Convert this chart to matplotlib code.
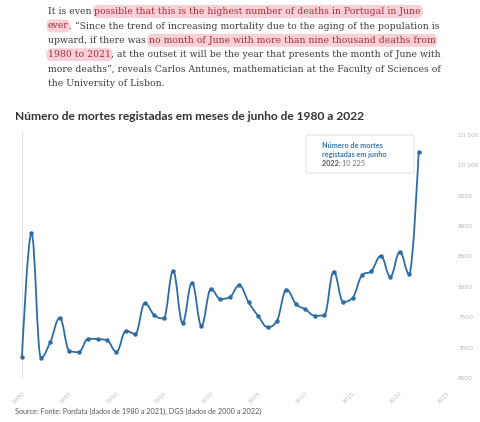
import matplotlib
matplotlib.use("Agg")
import matplotlib.pyplot as plt
from matplotlib.path import Path
from matplotlib.patches import PathPatch, FancyBboxPatch
import numpy as np

# ---------------- data ----------------
years = list(range(1980, 2023))
deaths = [6850, 8880, 6835, 7095, 7490, 6950, 6925, 7145, 7140, 7120,
          6930, 7275, 7225, 7730, 7535, 7480, 8260, 7410, 8070, 7360,
          7965, 7800, 7830, 8025, 7745, 7520, 7340, 7445, 7955, 7720,
          7630, 7525, 7530, 8250, 7755, 7820, 8190, 8260, 8510, 8165,
          8575, 8210, 10225]
y_ticks = [6500, 7000, 7500, 8000, 8500, 9000, 9500, 10000, 10500]
y_tick_labels = ["6500", "7000", "7500", "8000", "8500", "9000", "9500", "10 000", "10 500"]
x_ticks = [1980, 1985, 1990, 1995, 2000, 2005, 2010, 2015, 2020, 2025]

title = "Número de mortes registadas em meses de junho de 1980 a 2022"
source = "Source: Fonte: Pordata (dados de 1980 a 2021), DGS (dados de 2000 a 2022)"
body = [
    [("It is even ", False), ("possible that this is the highest number of deaths in Portugal in June", True)],
    [("ever", True), (". \u201cSince the trend of increasing mortality due to the aging of the population is", False)],
    [("upward, if there was ", False), ("no month of June with more than nine thousand deaths from", True)],
    [("1980 to 2021", True), (", at the outset it will be the year that presents the month of June with", False)],
    [("more deaths\u201d, reveals Carlos Antunes, mathematician at the Faculty of Sciences of", False)],
    [("the University of Lisbon.", False)],
]

W, H = 480, 422
fig = plt.figure(figsize=(W / 100, H / 100), dpi=100)
fig.patch.set_facecolor("white")


def fx(x):
    return x / W


def fy(y):
    return 1 - y / H


renderer = fig.canvas.get_renderer()

# ---------------- body text ----------------
body_font = dict(family="DejaVu Serif", size=6.7)
BASE_COL = "#3d3d3d"
HL_COL = "#a8303f"
HL_BG = "#f8d0d6"


def text_width(s, **kw):
    t1 = fig.text(0, 0, s + "x", **kw)
    t2 = fig.text(0, 0, "x", **kw)
    w = t1.get_window_extent(renderer).width - t2.get_window_extent(renderer).width
    t1.remove()
    t2.remove()
    return w


line_y0 = 11.5
line_dy = 14.4
for i, segs in enumerate(body):
    y = line_y0 + i * line_dy
    x = 48
    for s, hl in segs:
        w = text_width(s, **body_font)
        if hl:
            fig.patches.append(FancyBboxPatch((fx(x - 1.5), fy(y + 6.5)), fx(w + 3), 13 / H,
                                              boxstyle="round,pad=0,rounding_size=0.012",
                                              transform=fig.transFigure, facecolor=HL_BG,
                                              edgecolor="none", zorder=0))
        fig.text(fx(x), fy(y), s, color=HL_COL if hl else BASE_COL, va="center", ha="left",
                 zorder=2, **body_font)
        x += w

# ---------------- title ----------------
fig.text(fx(15), fy(117), title, fontsize=8.65, fontweight="bold", family="Lato",
         color="#333333", va="center", ha="left")

# ---------------- chart ----------------
ax = fig.add_axes([fx(22), fy(378), fx(447 - 22), (378 - 130) / H])
ax.set_xlim(1980, 2025)
ax.set_ylim(6500, 10580)
for sp in ["top", "right", "bottom"]:
    ax.spines[sp].set_visible(False)
ax.spines["left"].set_color("#e6e6e6")
ax.spines["left"].set_linewidth(0.8)

# Highcharts-like spline through data
xs = np.array(years, dtype=float)
ys = np.array(deaths, dtype=float)
n = len(xs)
sm, den = 1.5, 2.5
lc = [(xs[i], ys[i]) for i in range(n)]
rc = [(xs[i], ys[i]) for i in range(n)]
for i in range(1, n - 1):
    px, py = xs[i], ys[i]
    lx, ly = xs[i - 1], ys[i - 1]
    nx, ny = xs[i + 1], ys[i + 1]
    lcx = (sm * px + lx) / den
    lcy = (sm * py + ly) / den
    rcx = (sm * px + nx) / den
    rcy = (sm * py + ny) / den
    if rcx != lcx:
        corr = ((rcy - lcy) * (rcx - px)) / (rcx - lcx) + py - rcy
        lcy += corr
        rcy += corr
    if lcy > ly and lcy > py:
        lcy = max(ly, py)
        rcy = 2 * py - lcy
    elif lcy < ly and lcy < py:
        lcy = min(ly, py)
        rcy = 2 * py - lcy
    if rcy > ny and rcy > py:
        rcy = max(ny, py)
        lcy = 2 * py - rcy
    elif rcy < ny and rcy < py:
        rcy = min(ny, py)
        lcy = 2 * py - rcy
    lc[i] = (lcx, lcy)
    rc[i] = (rcx, rcy)

verts = [(xs[0], ys[0])]
codes = [Path.MOVETO]
for i in range(1, n):
    verts += [rc[i - 1], lc[i], (xs[i], ys[i])]
    codes += [Path.CURVE4] * 3
LINE_COL = "#2e6da4"
ax.add_patch(PathPatch(Path(verts, codes), facecolor="none", edgecolor=LINE_COL,
                       linewidth=1.3, clip_on=False, zorder=3))
ax.plot(years, deaths, "o", color=LINE_COL, markersize=2.2, clip_on=False, zorder=4)

ax.set_yticks(y_ticks)
ax.set_yticklabels(y_tick_labels)
ax.yaxis.tick_right()
ax.tick_params(axis="y", length=0, labelsize=4.2, labelcolor="#b5b5b5", pad=8)
ax.set_xticks(x_ticks)
ax.set_xticklabels([str(v) for v in x_ticks], rotation=45, ha="right", rotation_mode="anchor")
ax.tick_params(axis="x", length=0, labelsize=4.2, labelcolor="#c0c0c0", pad=9)

# tooltip
tip = FancyBboxPatch((fx(306), fy(173)), fx(108), 38 / H, boxstyle="round,pad=0,rounding_size=0.004",
                     transform=fig.transFigure, facecolor="white", edgecolor="#e4e4e4",
                     linewidth=0.8, zorder=5)
fig.patches.append(tip)
TIP_FS = 5.2
fig.text(fx(322), fy(145), "Número de mortes", fontsize=TIP_FS, fontweight="bold", family="Lato",
         color="#3a78b0", va="center", zorder=6)
fig.text(fx(322), fy(154.5), "registadas em junho", fontsize=TIP_FS, fontweight="bold", family="Lato",
         color="#3a78b0", va="center", zorder=6)
fig.text(fx(322), fy(164), "2022: ", fontsize=TIP_FS, fontweight="bold", family="Lato",
         color="#555555", va="center", zorder=6)
wt = text_width("2022: ", fontsize=TIP_FS, fontweight="bold", family="Lato")
fig.text(fx(322 + wt), fy(164), "10 225", fontsize=TIP_FS, family="Lato",
         color="#777777", va="center", zorder=6)

# source
fig.text(fx(15), fy(411), source, fontsize=5.2, family="Lato", color="#555555", va="center")

fig.savefig("out.png", dpi=100, facecolor="white")
